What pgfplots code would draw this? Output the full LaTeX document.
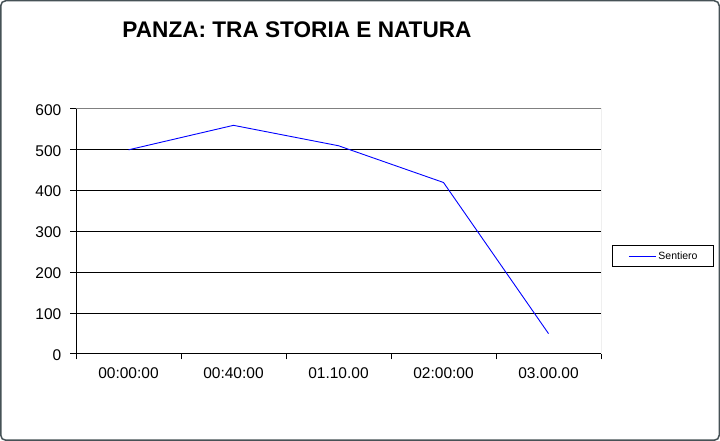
\documentclass[border=0pt]{standalone}
\usepackage{pgfplots}
\pgfplotsset{compat=1.18}
\usepackage{fontspec}
\setmainfont{Liberation Sans}
\begin{document}
\begin{tikzpicture}[x=1bp,y=1bp]
\useasboundingbox (0,0) rectangle (720,441);
\fill[white] (0,0) rectangle (720,441);
\draw[draw={rgb,255:red,70;green,82;blue,86}, line width=1.5bp, rounded corners=5bp] (0.75,0.75) rectangle (719.25,440.25);
\node[font=\fontsize{22.6bp}{25bp}\selectfont\bfseries] at (297,411.5) {PANZA: TRA STORIA E NATURA};
\begin{axis}[
  at={(76bp,87bp)}, anchor=south west,
  scale only axis, width=525bp, height=245bp,
  xmin=-0.5, xmax=4.5, ymin=0, ymax=600,
  axis line style={draw=none},
  xtick={-0.5,0.5,...,4.5}, xticklabels={},
  extra x ticks={0,1,2,3,4},
  extra x tick labels={00:00:00,00:40:00,01.10.00,02:00:00,03.00.00},
  extra x tick style={major tick length=0pt, xticklabel style={yshift=-13bp}},
  ytick={0,100,...,600},
  tick align=outside, major tick length=5.5bp,
  xtick pos=bottom, ytick pos=left,
  tick style={black, line width=1bp},
  ymajorgrids, grid style={black, line width=1bp},
  /pgf/number format/assume math mode=true,
  ticklabel style={font=\fontsize{15.5bp}{17bp}\selectfont},
  xticklabel style={inner sep=0pt, anchor=north},
  yticklabel style={inner sep=0pt, anchor=east, xshift=-9bp, yshift=-1bp},
  legend style={at={(1,0.4)}, anchor=west, xshift=11bp, draw=black, line width=1bp,
    font=\fontsize{10.5bp}{12bp}\selectfont, inner xsep=16bp, inner ysep=7bp,
    nodes={inner sep=0pt, text depth=0pt}},
  legend image code/.code={\draw[#1] (0bp,0bp) -- (26.6bp,0bp); \path (29bp,0bp);},
]
\addplot[blue, line width=0.9bp] coordinates {(0,500) (1,560) (2,510) (3,420) (4,50)};
\addlegendentry{Sentiero}
\draw[gray, line width=1bp] (rel axis cs:0,1) -- (rel axis cs:1,1) -- (rel axis cs:1,0);
\draw[black, line width=1bp] (rel axis cs:0,1) -- (rel axis cs:0,0) -- (rel axis cs:1,0);
\end{axis}
\end{tikzpicture}
\end{document}
